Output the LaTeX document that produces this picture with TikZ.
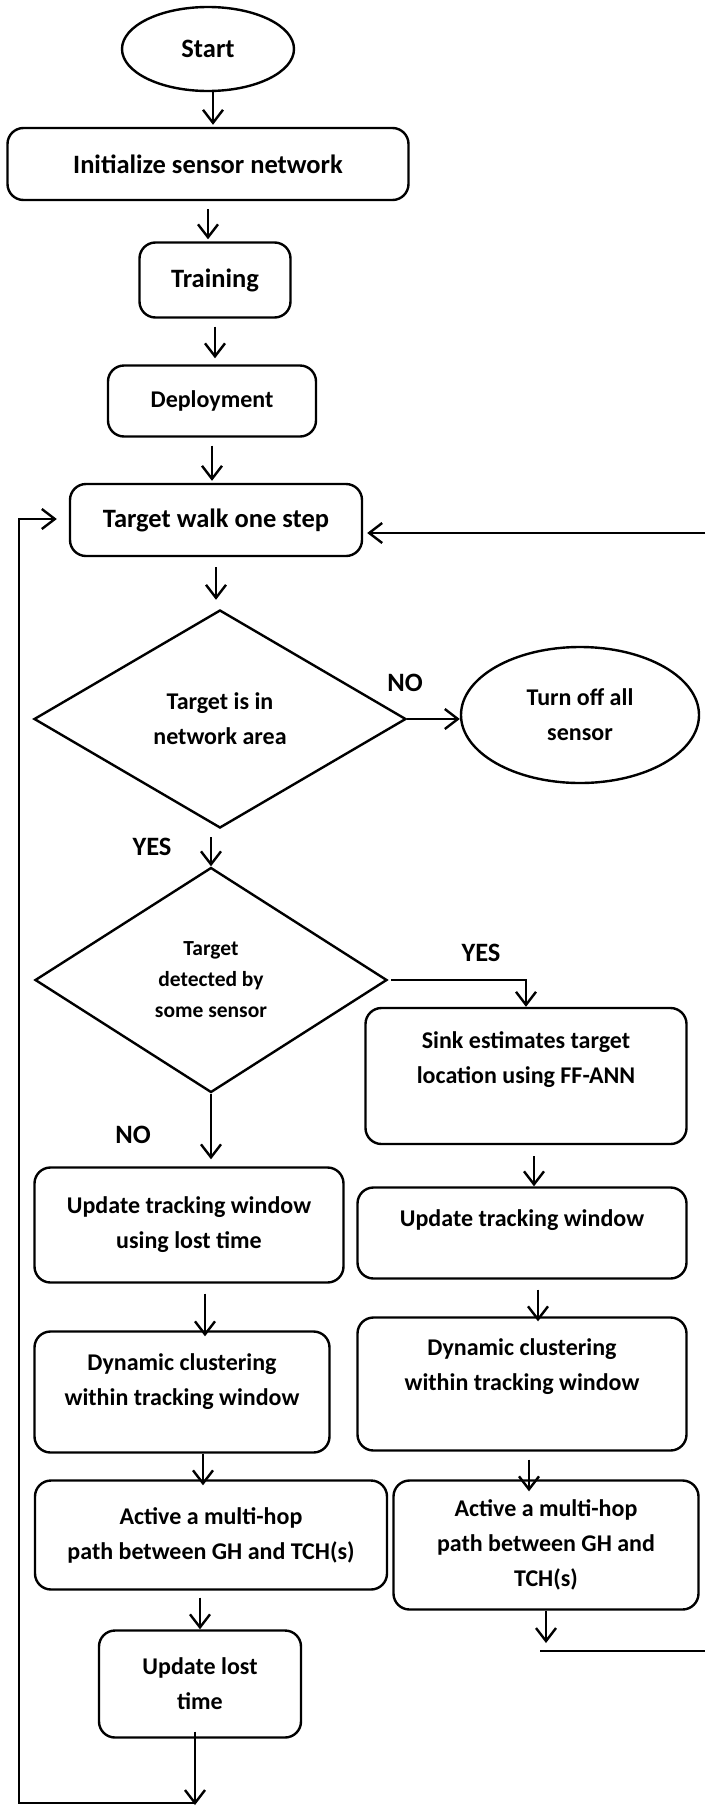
\documentclass[tikz,border=0pt]{standalone}
\usepackage{fontspec}
\setmainfont{Carlito}
\usetikzlibrary{shapes.geometric,arrows.meta}

\begin{document}
\begin{tikzpicture}[x=1pt,y=-1pt,line width=2.4pt,>={Straight Barb[length=13pt,width=20pt]},
    every node/.style={font=\bfseries\fontsize{24}{35}\selectfont,align=center,inner sep=0pt},
    bigfont/.style={font=\bfseries\fontsize{26.5}{35}\selectfont},
    stepbox/.style={draw,rounded corners=16pt},
    decision/.style={draw,diamond},
    terminal/.style={draw,ellipse},
    arr/.style={->,shorten <=8pt,shorten >=2pt}]

\useasboundingbox (0,0) rectangle (705,1807);

\node[terminal, bigfont, minimum width=172pt, minimum height=84pt] (start) at (208,49) {Start};
\node[stepbox, bigfont, minimum width=401pt, minimum height=72pt] (init) [below of=start, node distance=115pt] {Initialize sensor network};
\node[stepbox, bigfont, minimum width=151pt, minimum height=75pt] (training) [below of=init, node distance=116pt, xshift=7pt] {Training};
\node[stepbox, minimum width=208pt, minimum height=71pt] (deploy) [below of=training, node distance=121pt, xshift=-3pt] {Deployment};
\node[stepbox, bigfont, minimum width=292pt, minimum height=72pt] (walk) [below of=deploy, node distance=119pt, xshift=4pt] {Target walk one step};
\node[decision, minimum width=372pt, minimum height=218pt] (inarea) [below of=walk, node distance=199pt, xshift=4pt] {Target is in\\network area};
\node[terminal, minimum width=238pt, minimum height=136pt] (off) [right of=inarea, node distance=360pt, yshift=4pt] {Turn off all\\sensor};
\node[decision, minimum width=352pt, minimum height=225pt, font=\bfseries\fontsize{21.5}{31}\selectfont] (detect) [below of=inarea, node distance=261pt, xshift=-9pt] {Target\\detected by\\some sensor};

% yes branch
\node[stepbox, minimum width=321pt, minimum height=136pt] (sink) at (526,1076) {};
\node (sinktext) at ([yshift=16pt]sink.center) {Sink estimates target\\location using FF-ANN};
\node[stepbox, minimum width=329pt, minimum height=91pt] (rightupd) [below of=sink, node distance=157pt, xshift=-4pt] {};
\node (rightupdtext) at ([yshift=13pt]rightupd.center) {Update tracking window};
\node[stepbox, minimum width=329pt, minimum height=133pt] (rightdyn) [below of=rightupd, node distance=151pt] {};
\node (rightdyntext) at ([yshift=17pt]rightdyn.center) {Dynamic clustering\\within tracking window};
\node[stepbox, minimum width=305pt, minimum height=129pt] (rightact) [below of=rightdyn, node distance=161pt, xshift=24pt] {Active a multi-hop\\path between GH and\\TCH(s)};

% no branch
\node[stepbox, minimum width=309pt, minimum height=115pt] (leftupd) [below of=detect, node distance=245pt, xshift=-22pt] {Update tracking window\\using lost time};
\node[stepbox, minimum width=295pt, minimum height=121pt] (leftdyn) [below of=leftupd, node distance=167pt, xshift=-7pt] {};
\node (leftdyntext) at ([yshift=10pt]leftdyn.center) {Dynamic clustering\\within tracking window};
\node[stepbox, minimum width=352pt, minimum height=109pt] (leftact) [below of=leftdyn, node distance=143pt, xshift=29pt] {Active a multi-hop\\path between GH and TCH(s)};
\node[stepbox, minimum width=202pt, minimum height=107pt] (lost) [below of=leftact, node distance=149pt, xshift=-11pt] {Update lost\\time};

\node[bigfont] (noarea) at (405,683) {NO};
\node[bigfont] (yesarea) at (152,847) {YES};
\node[bigfont] (yesdetect) at (481,953) {YES};
\node[bigfont] (nodetect) at (133,1135) {NO};

\coordinate (rback) at (705,533);
\coordinate (rcorner) at (540,1651);
\coordinate (rout) at (705,1651);
\coordinate (lbot) at (195,1803);
\coordinate (lleft) at (19,1803);
\coordinate (ltop) at (19,519);

\path[arr]
([xshift=5pt]start.south) edge[shorten <=0pt] ([xshift=5pt]start.south |- init.north)
(init) edge (init |- training.north)
(training) edge[shorten >=6pt] (training |- deploy.north)
(deploy) edge (deploy |- walk.north)
(walk) edge[shorten <=10pt,shorten >=9pt] (walk |- inarea.north)
([xshift=-9pt]inarea.south) edge[shorten >=0pt] ([xshift=-9pt]inarea.south |- detect.north)
(detect) edge[shorten <=0pt,shorten >=7pt] (detect |- leftupd.north)
([xshift=8pt]sink.south) edge[shorten <=11pt,shorten >=0pt] ([xshift=8pt]sink.south |- rightupd.north)
([xshift=16pt]rightupd.south) edge[shorten <=10pt,shorten >=-5pt] ([xshift=16pt]rightupd.south |- rightdyn.north)
([xshift=16pt]leftupd.south) edge[shorten <=10pt,shorten >=-6pt] ([xshift=16pt]leftupd.south |- leftdyn.north)
([xshift=21pt]leftdyn.south) edge[shorten <=0pt,shorten >=-6pt] ([xshift=21pt]leftdyn.south |- leftact.north)
([xshift=7pt]rightdyn.south) edge[shorten >=-12pt] ([xshift=7pt]rightdyn.south |- rightact.north)
([xshift=-11pt]leftact.south) edge[shorten <=7pt,shorten >=0pt] ([xshift=-11pt]leftact.south |- lost.north)
(rightact) edge[shorten <=0pt,shorten >=8pt] (rightact |- rcorner)
([xshift=-5pt]lost.south) edge[shorten <=-7pt,shorten >=-2pt] ([xshift=-5pt]lost.south |- lbot);

\draw[arr,shorten <=0pt,shorten >=0pt] (inarea.east) -- (inarea.east -| off.west);
\draw[arr,shorten <=3pt,shorten >=0pt] (detect.east) -| (sink.north);
\draw (rcorner) -- (rout);
\draw[arr,shorten <=0pt,shorten >=4pt] (rback) -- (rback -| walk.east);
\draw[arr,shorten <=0pt,shorten >=12pt] (lbot) -- (lleft) -- (ltop) -- (ltop -| walk.west);

\end{tikzpicture}
\end{document}
